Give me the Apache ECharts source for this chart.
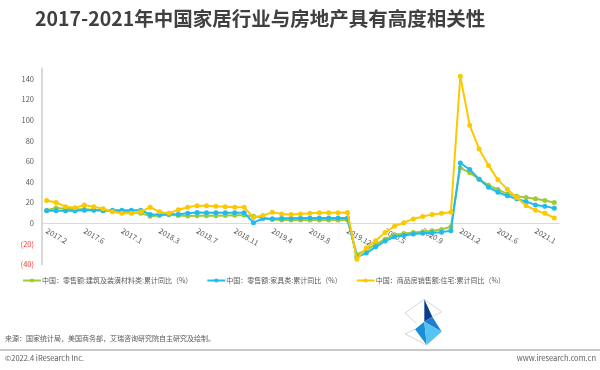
<!DOCTYPE html>
<html>
<head>
<meta charset="utf-8">
<script src="https://cdn.jsdelivr.net/npm/echarts/dist/echarts.min.js"></script>
<style>
html,body{margin:0;padding:0;background:#fff;}
#chart{width:600px;height:370px;}
</style>
</head>
<body>
<div id="chart"></div>
<script>
var titleText = '2017-2021年中国家居行业与房地产具有高度相关性';
var categories = [
  '2017.2','2017.3','2017.4','2017.5','2017.6','2017.7','2017.8','2017.9','2017.10','2017.11','2017.12',
  '2018.2','2018.3','2018.4','2018.5','2018.6','2018.7','2018.8','2018.9','2018.10','2018.11','2018.12',
  '2019.2','2019.3','2019.4','2019.5','2019.6','2019.7','2019.8','2019.9','2019.10','2019.11','2019.12',
  '2020.2','2020.3','2020.4','2020.5','2020.6','2020.7','2020.8','2020.9','2020.10','2020.11','2020.12',
  '2021.2','2021.3','2021.4','2021.5','2021.6','2021.7','2021.8','2021.9','2021.10','2021.11','2021.12'
];
var seriesNames = [
  '中国：零售额:建筑及装潢材料类:累计同比（%）',
  '中国：零售额:家具类:累计同比（%）',
  '中国：商品房销售额:住宅:累计同比（%）'
];
var buildingMaterials = [
  12.6,14.8,13.9,13.5,13.5,12.9,12.6,11.6,11.0,10.6,9.7,
  6.8,7.4,8.1,7.4,7.0,7.2,7.2,7.2,7.4,7.6,7.7,
  6.8,5.2,3.5,3.0,3.0,3.0,3.0,3.0,3.0,3.0,3.0,
  -30.5,-26.0,-20.6,-15.5,-11.3,-10.0,-9.0,-8.4,-7.4,-6.1,-3.5,
  53.6,49.0,42.6,36.8,32.6,28.4,26.1,24.8,23.6,22.0,20.0
];
var furniture = [
  12.0,12.0,12.0,12.0,12.6,12.6,12.0,12.6,12.6,12.6,12.6,
  8.4,8.4,8.7,8.7,9.7,10.3,10.0,10.0,10.0,10.0,10.0,
  0.5,4.5,4.2,4.8,4.8,5.0,5.0,5.0,5.0,5.0,5.0,
  -33.0,-29.0,-23.0,-17.4,-13.2,-12.0,-10.6,-9.7,-9.4,-8.7,-7.4,
  58.4,52.0,42.6,34.8,30.0,26.5,23.6,20.7,17.7,16.5,14.5
];
var housingSales = [
  22.0,20.0,16.0,15.0,17.5,16.0,14.0,11.0,9.5,9.5,11.0,
  15.5,11.0,9.5,13.0,15.5,17.0,17.0,16.5,16.0,15.5,15.5,
  5.5,7.5,10.5,9.0,8.5,9.0,9.5,10.0,10.0,10.0,10.3,
  -35.0,-24.0,-17.0,-9.0,-3.0,0.5,4.0,6.5,8.5,9.5,10.6,
  142.5,95.0,72.0,56.0,42.0,33.0,25.0,17.0,12.5,9.5,5.0
];
var sourceText = '来源：国家统计局，美国商务部，艾瑞咨询研究院自主研究及绘制。';
var copyrightText = '©2022.4 iResearch Inc.';
var siteText = 'www.iresearch.com.cn';

var FONT = '"Noto Sans CJK SC", "Noto Sans", sans-serif';
var colors = ['#9fca38', '#20bbec', '#fcc800'];
var chart = echarts.init(document.getElementById('chart'), null, {renderer: 'canvas'});

function mkSeries(name, data, color, z) {
  return {
    name: name, type: 'line', data: data, z: z,
    symbol: 'circle', symbolSize: 5, showSymbol: true,
    lineStyle: {color: color, width: 2},
    itemStyle: {color: color},
    animation: false
  };
}

var yMin = -40, yMax = 150;
var gridTop = 68.5, gridBottom = 105.6;
var plotH = 370 - gridTop - gridBottom;
var zeroOffset = -plotH * (0 - yMin) / (yMax - yMin);

chart.setOption({
  animation: false,
  textStyle: {fontFamily: FONT},
  title: {
    text: titleText, left: 30, top: 4,
    textStyle: {fontFamily: FONT, fontSize: 19.5, fontWeight: 'bold', color: '#404040'}
  },
  grid: {left: 42, right: 41, top: gridTop, bottom: gridBottom, containLabel: false},
  legend: {
    left: 17, top: 272, itemWidth: 18, itemHeight: 5, itemGap: 14,
    textStyle: {fontFamily: FONT, fontSize: 7, color: '#595959', padding: [0,0,0,-4]},
    data: seriesNames
  },
  xAxis: {
    type: 'category', data: categories, boundaryGap: true,
    offset: zeroOffset,
    axisLine: {onZero: false, lineStyle: {color: '#d9d9d9', width: 1}},
    axisTick: {show: false},
    axisLabel: {
      interval: 3, rotate: -30, fontSize: 7.5, color: '#595959', margin: 7,
      fontFamily: FONT,
      formatter: function (v) { return String(parseFloat(v)); }
    },
    splitLine: {show: false}
  },
  yAxis: {
    type: 'value', min: yMin, max: yMax, interval: 10,
    axisLine: {show: true, lineStyle: {color: '#d9d9d9', width: 2}},
    axisTick: {show: false},
    splitLine: {show: false},
    axisLabel: {
      fontSize: 7.5, margin: 8, fontFamily: FONT,
      color: function (v) { return Number(v) < 0 ? '#ff3333' : '#595959'; },
      formatter: function (v) {
        if (v % 20 !== 0 || v > 140) return '';
        return v < 0 ? '(' + (-v) + ')' : String(v);
      }
    }
  },
  series: [
    mkSeries(seriesNames[0], buildingMaterials, colors[0], 2),
    mkSeries(seriesNames[1], furniture, colors[1], 3),
    mkSeries(seriesNames[2], housingSales, colors[2], 4)
  ],
  graphic: [
    {type: 'text', left: 5, top: 335, style: {text: sourceText, fontSize: 7, fill: '#595959', fontFamily: FONT}},
    {type: 'rect', shape: {x: 0, y: 349, width: 600, height: 2}, style: {fill: '#c8c8c8'}},
    {type: 'text', left: 5, top: 354, style: {text: copyrightText, fontSize: 7.5, fill: '#595959', fontFamily: FONT}},
    {type: 'text', right: 4, top: 354, style: {text: siteText, fontSize: 7.5, fill: '#595959', fontFamily: FONT}},
    {type: 'polyline', shape: {points: [[405,313],[424.3,299.3],[441.7,311.7],[432.3,316.7]]}, style: {stroke: '#cccccc', lineWidth: 0.8, fill: null}},
    {type: 'polyline', shape: {points: [[405,313],[416.5,323.5]]}, style: {stroke: '#cccccc', lineWidth: 0.8, fill: null}},
    {type: 'polyline', shape: {points: [[415,329.3],[405,334],[426.7,345]]}, style: {stroke: '#cccccc', lineWidth: 0.8, fill: null}},
    {type: 'polygon', shape: {points: [[424.3,299.3],[424.3,321.7],[432.3,316.7]]}, style: {fill: '#0d3d8f'}},
    {type: 'polygon', shape: {points: [[424.3,321.7],[432.3,316.7],[441.7,331.7]]}, style: {fill: '#1e7fce'}},
    {type: 'polygon', shape: {points: [[415,329.3],[424.3,321.7],[426.7,345]]}, style: {fill: '#1a8fd8'}},
    {type: 'polygon', shape: {points: [[424.3,321.7],[441.7,331.7],[426.7,345]]}, style: {fill: '#55c4f2'}}
  ]
});
</script>
</body>
</html>
